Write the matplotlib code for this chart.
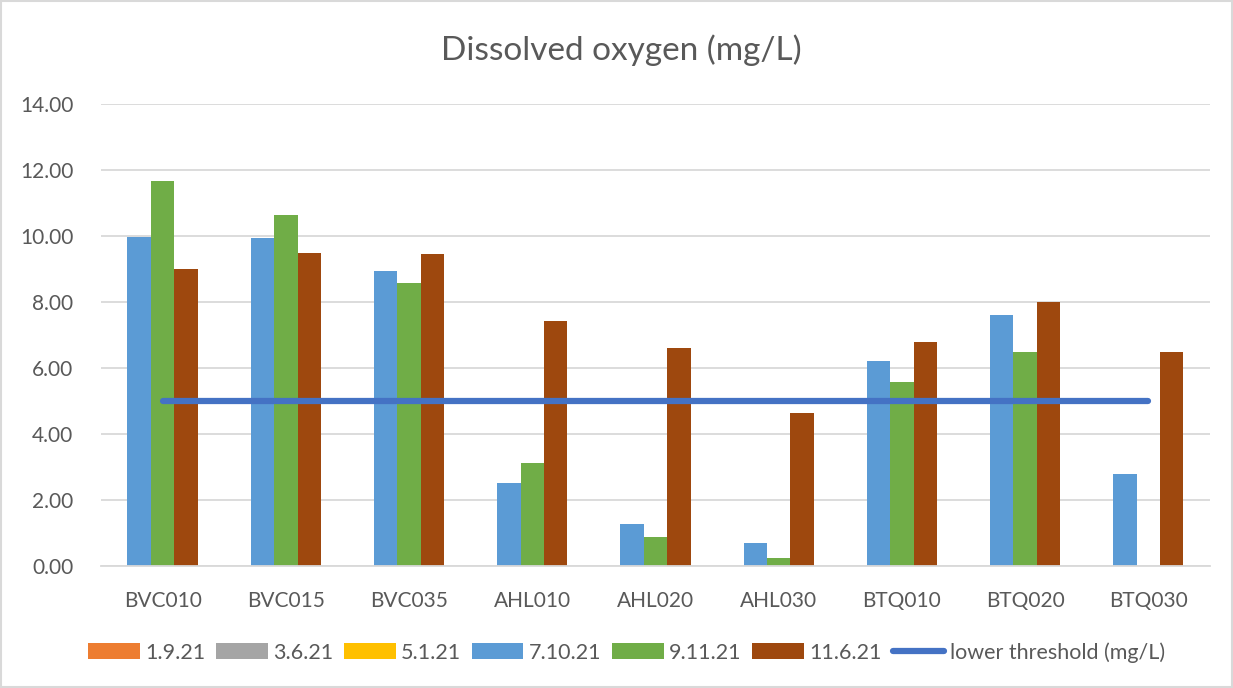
"""
Dissolved oxygen clustered bar chart.
"""

import numpy as np
import matplotlib
matplotlib.use('Agg')
import matplotlib.pyplot as plt
from matplotlib.patches import Patch, Rectangle
from matplotlib.lines import Line2D

nan = np.nan

sites = ['BVC010', 'BVC015', 'BVC035', 'AHL010', 'AHL020', 'AHL030',
         'BTQ010', 'BTQ020', 'BTQ030']

series_names = ['1.9.21', '3.6.21', '5.1.21', '7.10.21', '9.11.21', '11.6.21']
d_1_9_21 = [nan] * 9
d_3_6_21 = [nan] * 9
d_5_1_21 = [nan] * 9
d_7_10_21 = [9.97, 9.95, 8.94, 2.52, 1.27, 0.70, 6.21, 7.60, 2.78]
d_9_11_21 = [11.66, 10.65, 8.58, 3.12, 0.88, 0.24, 5.58, 6.48, nan]
d_11_6_21 = [9.00, 9.48, 9.45, 7.42, 6.60, 4.64, 6.79, 7.99, 6.48]
series_values = [d_1_9_21, d_3_6_21, d_5_1_21, d_7_10_21, d_9_11_21, d_11_6_21]

threshold_name = 'lower threshold (mg/L)'
threshold = [5.0] * 9

yticks = [0, 2, 4, 6, 8, 10, 12, 14]

# colour constants
COLORS = ['#ED7D31', '#A5A5A5', '#FFC000', '#5B9BD5', '#70AD47', '#9E480E']
LINE_BLUE = '#4472C4'
GRID_GRAY = '#D9D9D9'
TEXT_GRAY = '#595959'

plt.rcParams['font.family'] = ['Lato', 'DejaVu Sans']

fig = plt.figure(figsize=(12.33, 6.88), dpi=100)
ax = fig.add_axes([0.0819, 0.1773, 0.8994, 0.6715])

x = np.arange(len(sites))
bar_w = 0.19
visible = [i for i, v in enumerate(series_values) if not np.all(np.isnan(v))]
n_vis = len(visible)
for k, i in enumerate(visible):
    offset = (k - (n_vis - 1) / 2) * bar_w
    ax.bar(x + offset, series_values[i], width=bar_w, color=COLORS[i],
           linewidth=0, zorder=2)

ax.plot(x, threshold, color=LINE_BLUE, linewidth=4.5,
        solid_capstyle='round', zorder=3)

ax.set_xlim(-0.5, len(sites) - 0.5)
ax.set_ylim(0, 14)
ax.set_yticks(yticks)
ax.set_yticklabels([f'{t:.2f}' for t in yticks])
ax.set_xticks(x)
ax.set_xticklabels(sites)
ax.tick_params(axis='both', length=0, colors=TEXT_GRAY, labelsize=15)
ax.tick_params(axis='y', pad=20)
ax.tick_params(axis='x', pad=18)
ax.yaxis.grid(True, color=GRID_GRAY, linewidth=1.3, zorder=0)
ax.set_axisbelow(True)
for side in ['left', 'right', 'top']:
    ax.spines[side].set_visible(False)
ax.spines['bottom'].set_color(GRID_GRAY)
ax.spines['bottom'].set_linewidth(1.3)

fig.text(0.504, 0.927, 'Dissolved oxygen (mg/L)', ha='center', va='center',
         fontsize=24, color=TEXT_GRAY)

handles = [Patch(facecolor=c, linewidth=0) for c in COLORS]
handles.append(Line2D([0], [0], color=LINE_BLUE, linewidth=4.5,
                      solid_capstyle='round'))
labels = series_names + [threshold_name]
fig.legend(handles, labels, loc='center', bbox_to_anchor=(0.508, 0.052),
           ncol=7, frameon=False, fontsize=15.5, labelcolor=TEXT_GRAY,
           handlelength=2.4, handleheight=0.75, handletextpad=0.25,
           columnspacing=0.5)

# chart border
fig.patches.append(Rectangle((0.001, 0.001), 0.998, 0.998,
                             transform=fig.transFigure, fill=False,
                             edgecolor=GRID_GRAY, linewidth=1.5))

plt.savefig('out.png')
